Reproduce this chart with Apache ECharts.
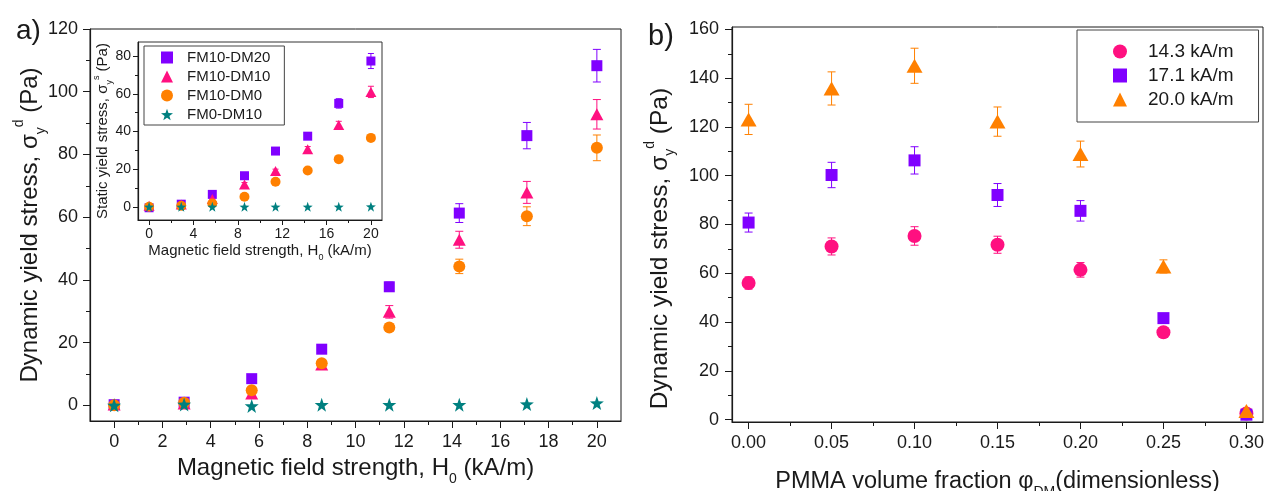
<!DOCTYPE html>
<html><head><meta charset="utf-8">
<script src="https://cdn.jsdelivr.net/npm/echarts@6/dist/echarts.min.js"></script>
<style>html,body{margin:0;padding:0;background:#fff}#c{width:1266px;height:491px}</style>
</head><body><div id="c"></div>
<script>
// ---------- data (a): dynamic yield stress vs field ----------
const fieldH = [0, 2.9, 5.7, 8.6, 11.4, 14.3, 17.1, 20];
const dynDM20 = [0.2, 1.0, 8.5, 17.9, 37.8, 61.3, 86.0, 108.3];
const dynDM20Err = [0.5, 0.6, 0.8, 1.0, 1.5, 3.0, 4.2, 5.2];
const dynDM10 = [0.3, 0.6, 3.8, 13.0, 29.8, 52.8, 67.9, 92.8];
const dynDM10Err = [0.6, 0.6, 1.0, 1.5, 2.0, 2.7, 3.5, 4.7];
const dynDM0 = [0.0, 0.8, 4.8, 13.4, 24.8, 44.3, 60.3, 82.1];
const dynDM0Err = [0.3, 0.4, 0.8, 1.0, 1.2, 2.3, 3.0, 4.1];
const dynFM0 = [0.0, 0.3, -0.2, 0.2, 0.2, 0.2, 0.4, 0.7];
// ---------- data (a, inset): static yield stress ----------
const staDM20 = [-0.5, 1.4, 6.6, 16.5, 29.6, 37.5, 54.9, 77.4];
const staDM20Err = [0.5, 0.5, 0.6, 0.8, 1.0, 1.5, 2.5, 4.0];
const staDM10 = [0.5, 1.2, 4.1, 11.9, 19.0, 30.5, 43.4, 61.0];
const staDM10Err = [0.5, 0.5, 0.6, 1.0, 1.0, 1.5, 2.0, 3.0];
const staDM0 = [0.0, 0.5, 1.8, 5.3, 13.3, 19.3, 25.3, 36.6];
const staDM0Err = [0.3, 0.3, 0.4, 0.6, 0.8, 1.0, 1.2, 1.5];
const staFM0 = [0, 0, 0, 0, 0, 0, 0, 0.1];
// ---------- data (b): dynamic yield stress vs PMMA fraction ----------
const pmmaFrac = [0, 0.05, 0.10, 0.15, 0.20, 0.25, 0.30];
const h143 = [56.0, 71.0, 75.3, 71.7, 61.4, 35.8, 2.5];
const h143Err = [2.5, 3.5, 3.8, 3.5, 3.0, 1.0, 0.5];
const h171 = [80.8, 100.3, 106.3, 92.1, 85.6, 41.6, 2.0];
const h171Err = [3.9, 5.2, 5.6, 4.7, 4.2, 1.0, 0.5];
const h200 = [123.1, 135.8, 145.1, 122.2, 108.9, 62.8, 3.5];
const h200Err = [6.2, 6.8, 7.2, 6.0, 5.3, 2.7, 1.0];
// ---------- tick values ----------
const ticksFieldMain = [0, 2, 4, 6, 8, 10, 12, 14, 16, 18, 20];
const minorFieldMain = [1, 3, 5, 7, 9, 11, 13, 15, 17, 19];
const ticksDynMain = [0, 20, 40, 60, 80, 100, 120];
const minorDynMain = [10, 30, 50, 70, 90, 110];
const ticksFieldInset = [0, 4, 8, 12, 16, 20];
const minorFieldInset = [2, 6, 10, 14, 18];
const ticksStaInset = [0, 20, 40, 60, 80];
const minorStaInset = [10, 30, 50, 70];
const ticksPMMA = [0, 0.05, 0.10, 0.15, 0.20, 0.25, 0.30];
const minorPMMA = [0.025, 0.075, 0.125, 0.175, 0.225, 0.275];
const ticksDynRight = [0, 20, 40, 60, 80, 100, 120, 140, 160];
const minorDynRight = [10, 30, 50, 70, 90, 110, 130, 150];

const namesA = ['FM10-DM20', 'FM10-DM10', 'FM10-DM0', 'FM0-DM10'];
const namesB = ['14.3 kA/m', '17.1 kA/m', '20.0 kA/m'];

const FONT = '"Liberation Sans", Arial, Helvetica, sans-serif';
const INK = '#1a1a1a';
const PURPLE = '#8000ff', PINK = '#ff1080', ORANGE = '#ff8000', TEAL = '#008080';
const STAR = 'path://M50 0L61.76 33.82L97.55 34.55L69.02 56.18L79.39 90.45L50 70L20.61 90.45L30.98 56.18L2.45 34.55L38.24 33.82Z';

function richStyle(fs, lh, sfs, pad) {
  const t = {fontFamily: FONT, color: INK};
  return {
    fontSize: fs, fontFamily: FONT, color: INK, lineHeight: lh, padding: pad || 0,
    rich: {
      sub: Object.assign({fontSize: sfs, lineHeight: sfs, verticalAlign: 'bottom'}, t),
      sup: Object.assign({fontSize: sfs, lineHeight: sfs, verticalAlign: 'top'}, t)
    }
  };
}

function axisPair(dim, gridIndex, min, max, major, minor, cfg) {
  const common = {gridIndex, type: 'value', min, max, position: dim === 'x' ? 'bottom' : 'left',
    splitLine: {show: false}, axisPointer: {show: false}};
  const main = Object.assign({}, common, {
    axisLine: {show: true, onZero: false, lineStyle: {color: INK, width: 1.2}},
    axisTick: {show: true, inside: false, length: cfg.tick, customValues: major, lineStyle: {color: INK, width: 1}},
    axisLabel: {show: true, customValues: major, margin: cfg.margin, color: INK, fontSize: cfg.fs,
      fontFamily: FONT, formatter: cfg.fmt || (v => String(v))},
    name: cfg.name, nameLocation: 'middle', nameGap: cfg.gap, nameRotate: dim === 'y' ? 90 : 0,
    nameMoveOverlap: false, nameTextStyle: cfg.nameStyle
  });
  const mnr = Object.assign({}, common, {
    axisLine: {show: false, onZero: false},
    axisTick: {show: true, inside: false, length: cfg.minorTick, customValues: minor, lineStyle: {color: INK, width: 1}},
    axisLabel: {show: false}
  });
  return [main, mnr];
}

function scatter(name, xs, ys, color, symbol, size, xi, yi) {
  return {type: 'scatter', name, xAxisIndex: xi, yAxisIndex: yi, z: 3, silent: true,
    data: xs.map((x, i) => [x, ys[i]]), symbol, symbolSize: size,
    itemStyle: {color, opacity: 1}, emphasis: {disabled: true}};
}

function errBars(name, xs, ys, errs, color, xi, yi, cap) {
  return {type: 'custom', name, xAxisIndex: xi, yAxisIndex: yi, z: 2, silent: true,
    data: xs.map((x, i) => [x, ys[i], errs[i]]),
    encode: {x: 0, y: 1},
    renderItem: (params, api) => {
      const x = api.value(0), y = api.value(1), e = api.value(2);
      const t = api.coord([x, y + e]), b = api.coord([x, y - e]);
      const hw = cap / 2, st = {stroke: color, lineWidth: 1};
      return {type: 'group', children: [
        {type: 'line', shape: {x1: t[0], y1: t[1], x2: b[0], y2: b[1]}, style: st},
        {type: 'line', shape: {x1: t[0] - hw, y1: t[1], x2: t[0] + hw, y2: t[1]}, style: st},
        {type: 'line', shape: {x1: b[0] - hw, y1: b[1], x2: b[0] + hw, y2: b[1]}, style: st}
      ]};
    }};
}

const grids = [
  {left: 90, top: 29, width: 531, height: 392, show: true, borderColor: INK, borderWidth: 1, backgroundColor: '#fff', outerBoundsMode: 'none', containLabel: false},
  {left: 138, top: 42, width: 244, height: 178, show: true, borderColor: '#333', borderWidth: 1, backgroundColor: '#fff', outerBoundsMode: 'none', containLabel: false},
  {left: 732, top: 27, width: 531, height: 395, show: true, borderColor: INK, borderWidth: 1, backgroundColor: '#fff', outerBoundsMode: 'none', containLabel: false}
];

const xA = axisPair('x', 0, -1, 21, ticksFieldMain, minorFieldMain,
  {tick: 7, minorTick: 4, margin: 12, fs: 18, gap: 29,
   name: 'Magnetic field strength, H{sub|0} (kA/m)', nameStyle: richStyle(24, 36, 14)});
const yA = axisPair('y', 0, -5, 120, ticksDynMain, minorDynMain,
  {tick: 7, minorTick: 4, margin: 12, fs: 18, gap: 42,
   name: 'Dynamic yield stress, σ{sub|y}{sup|d} (Pa)', nameStyle: richStyle(24, 36, 14)});
const xI = axisPair('x', 1, -1, 21, ticksFieldInset, minorFieldInset,
  {tick: 5, minorTick: 3, margin: 7, fs: 14, gap: 20,
   name: 'Magnetic field strength, H{sub|0} (kA/m)', nameStyle: richStyle(15, 22, 9)});
const yI = axisPair('y', 1, -7, 87.5, ticksStaInset, minorStaInset,
  {tick: 5, minorTick: 3, margin: 7, fs: 14, gap: 24,
   name: 'Static yield stress, σ{sub|y}{sup|s} (Pa)', nameStyle: richStyle(15, 22, 9)});
const xB = axisPair('x', 2, -0.01, 0.31, ticksPMMA, minorPMMA,
  {tick: 7, minorTick: 4, margin: 12, fs: 18, gap: 43, fmt: v => v.toFixed(2),
   name: 'PMMA volume fraction φ{sub|DM}(dimensionless)', nameStyle: richStyle(23.5, 34, 14)});
const yB = axisPair('y', 2, -1, 161, ticksDynRight, minorDynRight,
  {tick: 7, minorTick: 4, margin: 13, fs: 18, gap: 55,
   name: 'Dynamic yield stress, σ{sub|y}{sup|d} (Pa)', nameStyle: richStyle(24.5, 34, 14, [0, 48, 0, 0])});

const series = [
  // (a) main
  errBars('e1', fieldH, dynDM20, dynDM20Err, PURPLE, 0, 0, 8),
  errBars('e2', fieldH, dynDM10, dynDM10Err, PINK, 0, 0, 8),
  errBars('e3', fieldH, dynDM0, dynDM0Err, ORANGE, 0, 0, 8),
  scatter(namesA[0], fieldH, dynDM20, PURPLE, 'rect', 11, 0, 0),
  scatter(namesA[1], fieldH, dynDM10, PINK, 'triangle', [13, 12], 0, 0),
  scatter(namesA[2], fieldH, dynDM0, ORANGE, 'circle', 12, 0, 0),
  scatter(namesA[3], fieldH, dynFM0, TEAL, STAR, 14, 0, 0),
  // (a) inset
  errBars('e4', fieldH, staDM20, staDM20Err, PURPLE, 2, 2, 6),
  errBars('e5', fieldH, staDM10, staDM10Err, PINK, 2, 2, 6),
  errBars('e6', fieldH, staDM0, staDM0Err, ORANGE, 2, 2, 6),
  scatter(namesA[0], fieldH, staDM20, PURPLE, 'rect', 9, 2, 2),
  scatter(namesA[1], fieldH, staDM10, PINK, 'triangle', [11, 10], 2, 2),
  scatter(namesA[2], fieldH, staDM0, ORANGE, 'circle', 10, 2, 2),
  scatter(namesA[3], fieldH, staFM0, TEAL, STAR, 10, 2, 2),
  // (b)
  errBars('e7', pmmaFrac, h143, h143Err, PINK, 4, 4, 8),
  errBars('e8', pmmaFrac, h171, h171Err, PURPLE, 4, 4, 8),
  errBars('e9', pmmaFrac, h200, h200Err, ORANGE, 4, 4, 8),
  scatter(namesB[0], pmmaFrac, h143, PINK, 'circle', 14, 4, 4),
  scatter(namesB[1], pmmaFrac, h171, PURPLE, 'rect', 12, 4, 4),
  scatter(namesB[2], pmmaFrac, h200, ORANGE, 'triangle', [16, 14], 4, 4)
];

const chart = echarts.init(document.getElementById('c'), null, {renderer: 'canvas', width: 1266, height: 491});
chart.setOption({
  animation: false,
  backgroundColor: '#fff',
  textStyle: {fontFamily: FONT},
  title: [
    {text: 'a)', left: 11, top: 12, textStyle: {fontSize: 28, fontWeight: 'normal', fontFamily: FONT, color: INK}},
    {text: 'b)', left: 643, top: 17, textStyle: {fontSize: 29, fontWeight: 'normal', fontFamily: FONT, color: INK}}
  ],
  legend: [
    {data: namesA, left: 144, top: 46, orient: 'vertical', selectedMode: false,
     padding: [4, 14, 3, 17], itemGap: 4, itemWidth: 12, itemHeight: 12, symbolKeepAspect: true,
     textStyle: {fontSize: 15, fontFamily: FONT, color: INK, padding: [0, 0, 0, 9]},
     borderColor: '#444', borderWidth: 1, backgroundColor: '#fff', z: 10},
    {data: namesB, left: 1077, top: 30, orient: 'vertical', selectedMode: false,
     padding: [12, 25, 13, 36], itemGap: 5, itemWidth: 14, itemHeight: 14, symbolKeepAspect: true,
     textStyle: {fontSize: 19, fontFamily: FONT, color: INK, padding: [0, 0, 0, 16]},
     borderColor: '#444', borderWidth: 1, backgroundColor: '#fff', z: 10}
  ],
  grid: grids,
  xAxis: [].concat(xA, xI, xB),
  yAxis: [].concat(yA, yI, yB),
  series
});
</script>
</body></html>
